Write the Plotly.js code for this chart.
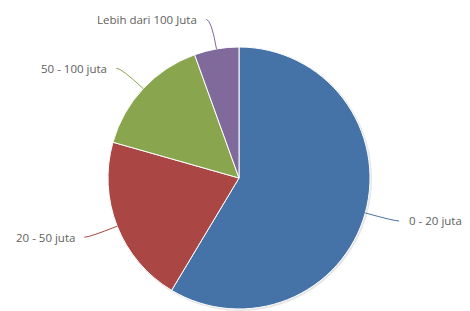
<!DOCTYPE html>
<html>
<head>
<meta charset="utf-8">
<script src="https://cdn.plot.ly/plotly-3.0.1.min.js"></script>
<style>html,body{margin:0;padding:0;background:#fff;}#chart{width:470px;height:311px;}</style>
</head>
<body>
<div id="chart"></div>
<script>
var categories = ["0 - 20 juta", "20 - 50 juta", "50 - 100 juta", "Lebih dari 100 Juta"];
var values = [58.6, 20.8, 15.1, 5.5];
var colors = ["#4572A7", "#AA4643", "#89A54E", "#80699B"];

var W = 470, H = 311;
var cx = 239, cy = 178, r = 131, dist = 30;

function px(x) { return x / W; }
function py(y) { return 1 - y / H; }

var pieDomain = { x: [px(cx - r), px(cx + r)], y: [py(cy + r), py(cy - r)] };
var shadowDomain = { x: [px(cx - r), px(cx + r + 2)], y: [py(cy + r + 2), py(cy - r)] };

var traces = [
  {
    type: "pie", values: [1], marker: { colors: ["rgba(0,0,0,0.10)"], line: { width: 0 } },
    textinfo: "none", hoverinfo: "skip", showlegend: false, sort: false, domain: shadowDomain
  },
  {
    type: "pie", labels: categories, values: values, sort: false, direction: "clockwise", rotation: 0,
    marker: { colors: colors, line: { color: "#ffffff", width: 1 } },
    textinfo: "none", hoverinfo: "label+value", showlegend: false, domain: pieDomain
  }
];

var total = values.reduce(function (a, b) { return a + b; }, 0);
var annotations = [], shapes = [];
var cum = 0;
values.forEach(function (v, i) {
  var mid = (cum + v / 2) / total * 2 * Math.PI;
  cum += v;
  var dx = Math.sin(mid), dy = -Math.cos(mid);
  var Px = cx + r * dx, Py = cy + r * dy;
  var Lx = cx + (r + dist) * dx, Ly = cy + (r + dist) * dy;
  var right = dx >= 0;
  var textX = right ? Lx + 13 : Lx - 12;
  var startX = right ? Lx + 5 : Lx - 5;
  annotations.push({
    xref: "paper", yref: "paper", x: px(textX), y: py(Ly),
    xanchor: right ? "left" : "right", yanchor: "middle",
    text: categories[i], showarrow: false,
    font: { family: "Open Sans, DejaVu Sans, sans-serif", size: 11.5, color: "#606060" }
  });
  shapes.push({
    type: "path", xref: "paper", yref: "paper",
    path: "M " + px(startX) + "," + py(Ly) + " Q " + px(Lx) + "," + py(Ly) + " " + px(Px) + "," + py(Py),
    line: { color: colors[i], width: 1 }
  });
});

var layout = {
  width: W, height: H,
  margin: { l: 0, r: 0, t: 0, b: 0 },
  paper_bgcolor: "#ffffff", plot_bgcolor: "#ffffff",
  showlegend: false,
  annotations: annotations,
  shapes: shapes
};

Plotly.newPlot("chart", traces, layout, { displayModeBar: false, staticPlot: true });
</script>
</body>
</html>
